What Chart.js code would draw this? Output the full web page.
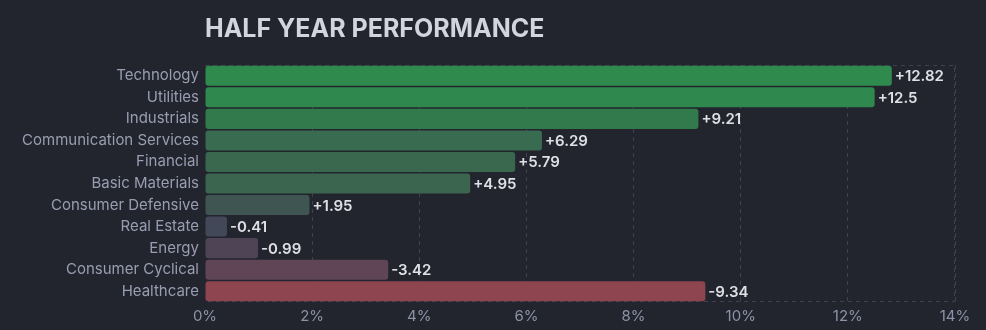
<!DOCTYPE html>
<html>
<head>
<meta charset="utf-8">
<script src="https://cdn.jsdelivr.net/npm/chart.js@4"></script>
<style>
  html, body { margin: 0; padding: 0; background: #22252e; }
  #wrap { width: 986px; height: 330px; }
</style>
</head>
<body>
<div id="wrap"><canvas id="chart"></canvas></div>
<script>
const sectors = ["Technology", "Utilities", "Industrials", "Communication Services", "Financial",
  "Basic Materials", "Consumer Defensive", "Real Estate", "Energy", "Consumer Cyclical", "Healthcare"];
const changes = [12.82, 12.5, 9.21, 6.29, 5.79, 4.95, 1.95, -0.41, -0.99, -3.42, -9.34];
const xTicks = [0, 2, 4, 6, 8, 10, 12, 14];
const barColors = ["#2f8a4d", "#2f884d", "#327a4c", "#386b50", "#3a684f", "#3b654f",
  "#3e5552", "#434859", "#4f4456", "#5f4556", "#8e4550"];

// bars are drawn by magnitude, the sign only shows in the label
const magnitudes = changes.map(v => Math.abs(v));
const fmt = v => (v > 0 ? "+" : "") + v;

// text at the end of each bar
const valueLabels = {
  id: "valueLabels",
  afterDatasetsDraw(chart) {
    const ctx = chart.ctx;
    const meta = chart.getDatasetMeta(0);
    ctx.save();
    ctx.font = "600 15px Inter";
    ctx.fillStyle = "#dfe0e6";
    ctx.textBaseline = "middle";
    meta.data.forEach((bar, i) => {
      ctx.fillText(fmt(changes[i]), bar.x + 3, bar.y + 1);
    });
    ctx.restore();
  }
};

// dashed frame round the plot
const frame = {
  id: "frame",
  beforeDatasetsDraw(chart) {
    const {ctx, chartArea: a} = chart;
    ctx.save();
    ctx.strokeStyle = "#3d414d";
    ctx.lineWidth = 1;
    ctx.setLineDash([4, 4]);
    ctx.beginPath();
    ctx.moveTo(a.left, a.top + 0.5);
    ctx.lineTo(a.right - 0.5, a.top + 0.5);
    ctx.lineTo(a.right - 0.5, a.bottom - 0.5);
    ctx.lineTo(a.left, a.bottom - 0.5);
    ctx.stroke();
    ctx.restore();
  }
};

new Chart(document.getElementById("chart"), {
  type: "bar",
  data: {
    labels: sectors,
    datasets: [{
      data: magnitudes,
      backgroundColor: barColors,
      borderRadius: 3,
      borderSkipped: false,
      barPercentage: 0.93,
      categoryPercentage: 1
    }]
  },
  options: {
    indexAxis: "y",
    responsive: true,
    maintainAspectRatio: false,
    animation: false,
    layout: { padding: { left: 0, right: 31, top: 14, bottom: 0 } },
    plugins: {
      legend: { display: false },
      tooltip: { enabled: false },
      title: {
        display: true,
        text: "HALF YEAR PERFORMANCE",
        align: "start",
        fullSize: false,
        color: "#d2d4de",
        font: { family: "Inter", size: 25, weight: "bold" },
        padding: { top: 0, bottom: 21 }
      }
    },
    scales: {
      x: {
        min: 0,
        max: 14,
        afterBuildTicks: scale => { scale.ticks = xTicks.map(v => ({ value: v })); },
        grid: {
          color: ctx => ctx.tick && ctx.tick.value === 0 ? "transparent" : "#3d414d",
          drawTicks: false
        },
        border: { display: false, dash: [4, 4] },
        ticks: {
          color: "#8e92a6",
          padding: 5,
          font: { family: "Inter", size: 15 },
          callback: v => v + "%"
        }
      },
      y: {
        afterFit: scale => { scale.width = 205; },
        grid: { display: false, drawTicks: false },
        border: { display: false },
        ticks: {
          color: "#9a9db1",
          padding: 6,
          font: { family: "Inter", size: 15 }
        }
      }
    }
  },
  plugins: [frame, valueLabels]
});
</script>
</body>
</html>
